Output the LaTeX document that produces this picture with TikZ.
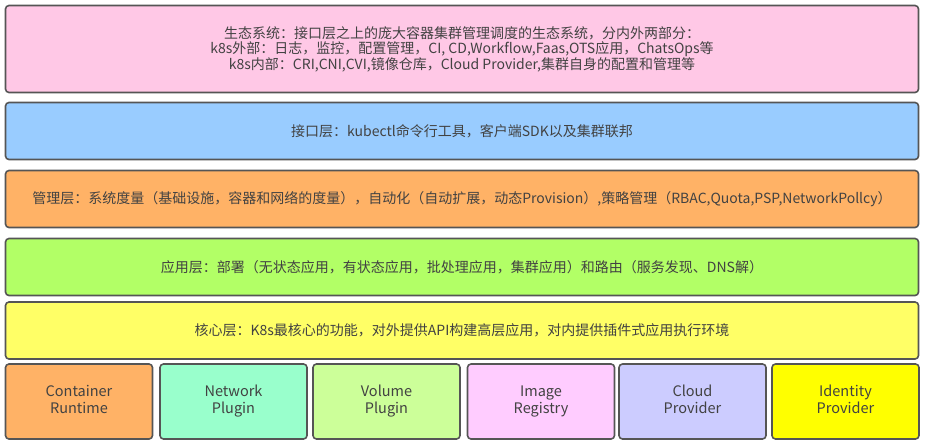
\documentclass[tikz,border=0pt]{standalone}
\usepackage{fontspec}
\setmainfont{Noto Sans CJK SC}
\usepackage{tikz}
\definecolor{ecopink}{HTML}{FFC8E6}
\definecolor{apiblue}{HTML}{99CCFF}
\definecolor{mgmtorange}{HTML}{FFB266}
\definecolor{appgreen}{HTML}{B2FF66}
\definecolor{coreyellow}{HTML}{FFFF66}
\definecolor{netmint}{HTML}{99FFCC}
\definecolor{vollime}{HTML}{CCFF99}
\definecolor{imgpink}{HTML}{FFCCFF}
\definecolor{cloudlilac}{HTML}{CCCCFF}
\definecolor{idyellow}{HTML}{FFFF00}
\definecolor{edgegray}{HTML}{555555}
\definecolor{textgray}{HTML}{424242}
\tikzset{
  layer/.style={draw=edgegray, line width=1.6pt, rounded corners=3.5pt, minimum width=913, minimum height=57, align=center, text=textgray, font=\fontsize{14}{15}\selectfont},
  plugin/.style={draw=edgegray, line width=1.6pt, rounded corners=3.5pt, minimum width=147, minimum height=75, align=center, text=textgray, font=\fontsize{14.5}{17}\selectfont}
}

\begin{document}
\begin{tikzpicture}[x=1pt,y=-1pt]
            \useasboundingbox (0,0) rectangle (925,445);
            % layers
            \node[layer, fill=ecopink, minimum height=87] (eco) at (462,49) {生态系统：接口层之上的庞大容器集群管理调度的生态系统，分内外两部分：\\k8s外部：日志，监控，配置管理，CI, CD,Workflow,Faas,OTS应用，ChatsOps等\\k8s内部：CRI,CNI,CVI,镜像仓库，Cloud Provider,集群自身的配置和管理等};
            \node[layer, fill=apiblue] (api) at (462,131) {接口层：kubectl命令行工具，客户端SDK以及集群联邦};
            \node[layer, fill=mgmtorange] (mgmt) at (462,199) {管理层：系统度量（基础设施，容器和网络的度量），自动化（自动扩展，动态Provision）,策略管理（RBAC,Quota,PSP,NetworkPollcy）};
            \node[layer, fill=appgreen] (app) at (462,267) {应用层：部署（无状态应用，有状态应用，批处理应用，集群应用）和路由（服务发现、DNS解）};
            \node[layer, fill=coreyellow] (core) at (462,330.5) {核心层：K8s最核心的功能，对外提供API构建高层应用，对内提供插件式应用执行环境};

            % plugins
            \node[plugin, fill=mgmtorange] (cri) at (79,401.5) {\strut Container\\\strut Runtime};
            \node[plugin, fill=netmint] (cni) at (233.5,401.5) {\strut Network\\\strut Plugin};
            \node[plugin, fill=vollime] (cvi) at (386.5,401.5) {\strut Volume\\\strut Plugin};
            \node[plugin, fill=imgpink] (registry) at (541,401.5) {\strut Image\\\strut Registry};
            \node[plugin, fill=cloudlilac] (cloud) at (692.5,401.5) {\strut Cloud\\\strut Provider};
            \node[plugin, fill=idyellow] (identity) at (845.5,401.5) {\strut Identity\\\strut Provider};
\end{tikzpicture}
\end{document}
